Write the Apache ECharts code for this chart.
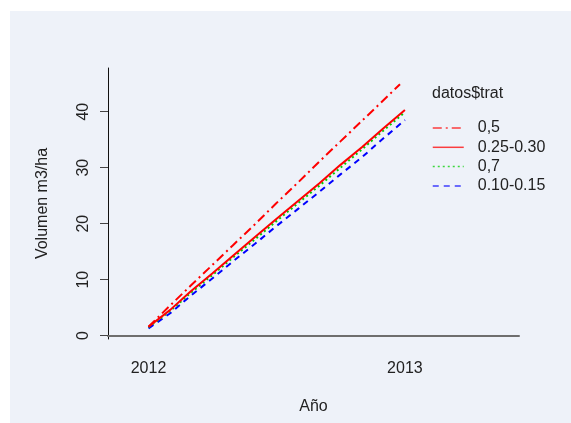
<!DOCTYPE html>
<html><head><meta charset="utf-8">
<script src="https://cdn.jsdelivr.net/npm/echarts@6/dist/echarts.min.js"></script>
<style>html,body{margin:0;padding:0;background:#fff}#c{width:571px;height:423px}</style>
</head><body><div id="c"></div>
<script>
// Data
var dates = ['2012-01-01','2012-02-01','2012-03-01','2012-04-01','2012-05-01','2012-06-01','2012-07-01','2012-08-01','2012-09-01','2012-10-01','2012-11-01','2012-12-01','2013-01-01'];
var dates05 = ['2012-01-01','2012-02-01','2012-03-01','2012-04-01','2012-05-01','2012-06-01','2012-07-01','2012-08-01','2012-09-01','2012-10-01','2012-11-01','2012-12-01','2012-12-25'];
var seriesNames = ['0,5','0.25-0.30','0,7','0.10-0.15'];
var v05    = [1.6, 5.4, 8.9, 12.6, 16.2, 19.9, 23.6, 27.3, 31.1, 34.7, 38.4, 42.0, 44.9];
var v2530  = [1.6, 4.6, 7.9, 11.1, 14.3, 17.6, 20.8, 24.0, 27.2, 30.5, 33.7, 37.0, 40.3];
var v07    = [1.5, 4.4, 7.6, 10.8, 14.0, 17.2, 20.4, 23.6, 26.8, 30.0, 33.3, 36.6, 39.9];
var v1015  = [1.3, 4.0, 7.1, 10.2, 13.3, 16.4, 19.5, 22.6, 25.7, 28.8, 31.9, 35.2, 38.5];
var xTicks = [2012, 2013];
var yTicks = [0, 10, 20, 30, 40];

function decYear(s){
  var d = new Date(s + 'T00:00:00Z');
  var y = d.getUTCFullYear();
  var a = Date.UTC(y,0,1), b = Date.UTC(y+1,0,1);
  return y + (d.getTime()-a)/(b-a);
}
function pairs(ds, vs){ return vs.map(function(v,i){ return [decYear(ds[i]), v]; }); }

var FONT = 'Liberation Sans, Arial, sans-serif';
var chart = echarts.init(document.getElementById('c'), null, {renderer:'canvas'});
function mk(name, ds, vs, color, type, z){
  return {name:name, type:'line', data:pairs(ds,vs), symbol:'none', z:z,
    lineStyle:{color:color, width:2, type:type}, itemStyle:{color:color}, animation:false};
}
chart.setOption({
  backgroundColor:'#ffffff',
  animation:false,
  textStyle:{fontFamily:FONT},
  graphic:[
    {type:'rect', z:-10, silent:true, shape:{x:10,y:11,width:561,height:412}, style:{fill:'#eef2f9'}},
    {type:'text', left:432, top:86, style:{text:'datos$trat', font:'16px '+FONT, fill:'#222'}}
  ],
  grid:{left:108, right:52, top:68, bottom:84, containLabel:false},
  xAxis:{type:'value', min:2011.842, max:2013.445,
    name:'Año', nameLocation:'middle', nameGap:60,
    nameTextStyle:{fontSize:16, color:'#222', fontFamily:FONT},
    axisLine:{show:true, lineStyle:{color:'#6e6e6e', width:2}},
    axisTick:{show:false},
    splitLine:{show:false},
    axisLabel:{customValues:xTicks, fontSize:16, color:'#222', margin:22, fontFamily:FONT, formatter:function(v){return String(v);}}
  },
  yAxis:{type:'value', min:-0.6, max:47.8,
    name:'Volumen m3/ha', nameLocation:'middle', nameGap:57, nameRotate:90,
    nameTextStyle:{fontSize:16, color:'#222', fontFamily:FONT},
    axisLine:{show:true, lineStyle:{color:'#111', width:1}},
    axisTick:{show:true, customValues:yTicks, length:8, lineStyle:{color:'#444'}},
    splitLine:{show:false},
    axisLabel:{customValues:yTicks, rotate:90, fontSize:16, color:'#222', margin:16, fontFamily:FONT}
  },
  legend:{orient:'vertical', left:432, top:120, padding:0, itemWidth:31, itemHeight:14, itemGap:3.3,
    itemStyle:{opacity:0, borderWidth:0},
    lineStyle:{width:1.5, opacity:0.75},
    textStyle:{fontSize:16, color:'#222', fontFamily:FONT, padding:[0,0,0,9]}, data:seriesNames, selectedMode:false},
  series:[
    mk(seriesNames[0], dates05, v05, '#ff0000', [9,4,2,4], 3),
    mk(seriesNames[2], dates, v07, '#00cd00', [2,3], 2),
    mk(seriesNames[3], dates, v1015, '#0000ff', [6,5], 1),
    mk(seriesNames[1], dates, v2530, '#ff0000', 'solid', 4)
  ]
});
</script></body></html>
